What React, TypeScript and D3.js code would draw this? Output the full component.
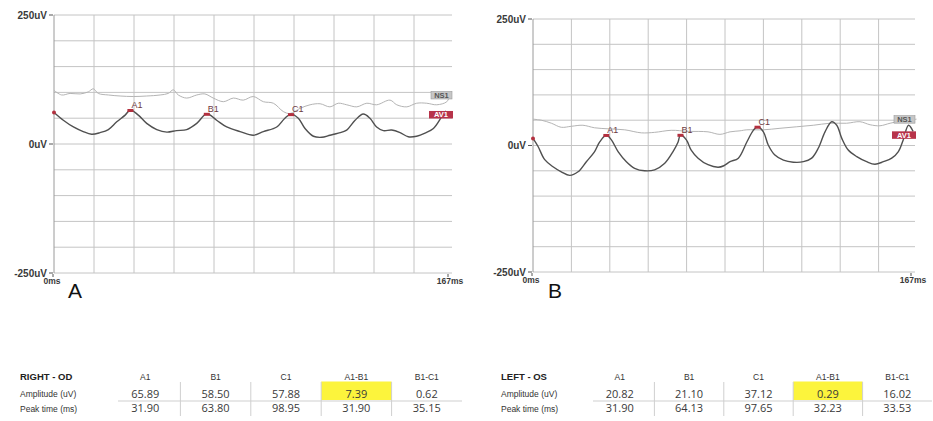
import React from "react";
import * as d3 from "d3";

type Pt = [number, number];

const X_MAX = 167;
const Y_MIN = -250;
const Y_MAX = 250;
const yTickValues = [250, 0, -250];
const yTickText = ["250uV", "0uV", "-250uV"];
const xTickText = ["0ms", "167ms"];
const peakNames = ["A1", "B1", "C1"];
const columnNames = ["A1", "B1", "C1", "A1-B1", "B1-C1"];
const rowNames = ["Amplitude (uV)", "Peak time (ms)"];

// table values
const odAmplitude = [65.89, 58.5, 57.88, 7.39, 0.62];
const odPeakTime = [31.9, 63.8, 98.95, 31.9, 35.15];
const osAmplitude = [20.82, 21.1, 37.12, 0.29, 16.02];
const osPeakTime = [31.9, 64.13, 97.65, 32.23, 33.53];

// traces, [ms, uV]
const odAv1: Pt[] = [
  [0, 61], [3.9, 46], [8.1, 33], [12.2, 24], [15.7, 19], [19.2, 22], [22.7, 28],
  [26.2, 43], [29.7, 56], [31.9, 65.89], [35.2, 56], [38.7, 40], [42.9, 28],
  [47.1, 23], [51.2, 26], [55.4, 28], [59.6, 40], [63.8, 58.5], [67.9, 46],
  [72.1, 33], [77.7, 24], [83.2, 17], [87.4, 24], [93.0, 33], [96.4, 50],
  [98.95, 57.88], [102.0, 50], [104.8, 30], [108.3, 15], [111.8, 13], [115.2, 17],
  [118.7, 21], [122.2, 27], [125.7, 46], [129.1, 58], [131.9, 50], [134.7, 33],
  [137.5, 26], [141.0, 27], [144.5, 22], [147.9, 14], [151.4, 15], [154.9, 21],
  [158.4, 30], [161.9, 53], [163.7, 64],
];
const odNs1: Pt[] = [
  [0, 104], [3.2, 95], [6.7, 98], [10.9, 97], [14.3, 101], [16.4, 107], [18.5, 98],
  [22.7, 95], [27.6, 93], [33.1, 92], [38.7, 93], [44.3, 95], [47.7, 98], [49.8, 105],
  [51.9, 95], [55.4, 89], [59.6, 95], [63.0, 97], [66.5, 89], [70.7, 82], [74.9, 89],
  [79.0, 85], [83.2, 92], [87.4, 82], [91.6, 79], [95.7, 63], [98.5, 59], [102.7, 69],
  [106.9, 76], [111.1, 78], [115.2, 72], [118.7, 79], [122.2, 76], [126.4, 72],
  [130.6, 79], [134.7, 76], [140.3, 85], [143.1, 76], [147.3, 72], [151.4, 79],
  [155.6, 79], [159.8, 76], [164.0, 82], [165.3, 95],
];
const osAv1: Pt[] = [
  [0, 14], [2.2, -2], [5.1, -28], [8.7, -42], [12.3, -52], [16.0, -59], [19.6, -52],
  [23.2, -32], [26.8, -12], [29.0, 7], [31.9, 20.82], [34.1, 11], [37.0, -12],
  [40.6, -32], [44.2, -45], [48.6, -50], [52.9, -48], [57.3, -35], [60.9, -12],
  [63.1, 7], [64.13, 21.1], [66.7, 11], [68.8, -9], [71.8, -25], [76.1, -38],
  [80.5, -43], [83.0, -40], [85.7, -32], [89.3, -25], [93.0, 7], [95.8, 30],
  [97.65, 37.12], [100.2, 27], [102.3, 1], [105.2, -19], [108.9, -29], [113.2, -33],
  [117.6, -32], [121.2, -25], [124.1, -5], [127.0, 27], [129.9, 47], [132.1, 40],
  [134.3, 14], [137.1, -9], [140.8, -22], [145.1, -32], [148.7, -37], [152.4, -32],
  [156.0, -25], [158.9, -12], [161.0, 11], [163.3, 40], [165.3, 28],
];
const osNs1: Pt[] = [
  [0, 52], [3.6, 50], [8, 44], [12.3, 36], [16.7, 38], [21.7, 40], [26.8, 35],
  [32.6, 33], [39.9, 31], [47.1, 25], [52.9, 26], [60.1, 30], [67.4, 28], [76.1, 27],
  [81.3, 22], [85.7, 27], [90, 29], [93, 31], [100.2, 31], [107.4, 34], [114.7, 37],
  [121.9, 40], [129.2, 44], [136.4, 44], [142.2, 47], [146.6, 41], [150.9, 39],
  [155.3, 44], [159.6, 48], [163, 50], [166.8, 52],
];

const AXIS_FONT = "'Liberation Sans', Arial, sans-serif";
const TABLE_FONT = "'Open Sans', 'Liberation Sans', sans-serif";

function Trace({ x0, x1, yTop, yBottom, av1, ns1, amp, time, letter, letterX }: any) {
  const x = d3.scaleLinear().domain([0, X_MAX]).range([x0, x1]);
  const y = d3.scaleLinear().domain([Y_MIN, Y_MAX]).range([yBottom, yTop]);
  const line = d3
    .line<Pt>()
    .x(d => x(d[0]))
    .y(d => y(d[1]))
    .curve(d3.curveCatmullRom.alpha(0.5));
  const vGrid = d3.range(1, 10).map(i => (X_MAX * i) / 10);
  const hGrid = d3.range(Y_MIN, Y_MAX + 1, 50);
  const av1Last = av1[av1.length - 1];
  const ns1Last = ns1[ns1.length - 1];
  const xEnd = x(X_MAX);

  return (
    <g>
      {hGrid.map(v => (
        <line key={"h" + v} x1={x0} x2={xEnd - 2} y1={y(v)} y2={y(v)} stroke="#c4c4c4" strokeWidth={1} />
      ))}
      {vGrid.map(v => (
        <line key={"v" + v} x1={x(v)} x2={x(v)} y1={yTop} y2={yBottom} stroke="#c4c4c4" strokeWidth={1} />
      ))}
      <line x1={x0} x2={x0} y1={yTop} y2={yBottom} stroke="#9a9a9a" strokeWidth={1} />

      {yTickValues.map((v, i) => (
        <g key={"yt" + v}>
          <text x={x0 - 7} y={y(v) + 3.5} textAnchor="end" fontFamily={AXIS_FONT} fontSize={10} fontWeight={700} fill="#3a3a3a">
            {yTickText[i]}
          </text>
          <line x1={x0 - 5} x2={x0 - 1} y1={y(v)} y2={y(v)} stroke="#555" strokeWidth={1} />
        </g>
      ))}
      {[0, X_MAX].map((v, i) => (
        <g key={"xt" + v}>
          <line x1={x(v) - (i ? 6 : 1)} x2={x(v) - (i ? 6 : 1)} y1={yBottom + 1} y2={yBottom + 4} stroke="#555" strokeWidth={1} />
          <text x={x(v) - (i ? 4 : 2)} y={yBottom + 11} textAnchor="middle" fontFamily={AXIS_FONT} fontSize={8.5} fontWeight={700} fill="#3a3a3a">
            {xTickText[i]}
          </text>
        </g>
      ))}

      <path d={line(ns1) || ""} fill="none" stroke="#b4b4b4" strokeWidth={1} />
      <path d={line(av1) || ""} fill="none" stroke="#505050" strokeWidth={1.4} />
      <circle cx={x(av1[0][0])} cy={y(av1[0][1])} r={2} fill="#b3303f" />

      {peakNames.map((name, i) => (
        <g key={name}>
          <rect x={x(time[i]) - 3} y={y(amp[i]) - 1} width={6} height={3} fill="#b3303f" />
          <text x={x(time[i]) + 1} y={y(amp[i]) - 2} fontFamily={AXIS_FONT} fontSize={9} fill="#6d3b42">
            {name}
          </text>
        </g>
      ))}

      <rect x={xEnd - 23} y={y(ns1Last[1]) - 3.5} width={21} height={7.5} fill="#c6c6c6" stroke="#9a9a9a" strokeWidth={0.6} />
      <text x={xEnd - 12.5} y={y(ns1Last[1]) + 3} textAnchor="middle" fontFamily={AXIS_FONT} fontSize={7.5} fontWeight={700} fill="#555">
        NS1
      </text>
      <rect x={xEnd - 25} y={y(av1Last[1])} width={24} height={7.5} fill="#b7334a" />
      <text x={xEnd - 13} y={y(av1Last[1]) + 6.5} textAnchor="middle" fontFamily={AXIS_FONT} fontSize={7.5} fontWeight={700} fill="#fff">
        AV1
      </text>

      <text x={letterX} y={298} fontFamily={AXIS_FONT} fontSize={21} fill="#111">
        {letter}
      </text>
    </g>
  );
}

function Table({ labelX, range, title, amp, time }: any) {
  const band = d3.scaleBand<number>().domain(d3.range(5)).range(range);
  const bw = band.bandwidth();
  const cx = (i: number) => (band(i) as number) + bw / 2;
  return (
    <g>
      <text x={labelX} y={380} fontFamily={AXIS_FONT} fontSize={9.5} fontWeight={700} fill="#222">
        {title}
      </text>
      {columnNames.map((c, i) => (
        <text key={c} x={cx(i)} y={380} textAnchor="middle" fontFamily={AXIS_FONT} fontSize={8.5} fill="#333">
          {c}
        </text>
      ))}
      {rowNames.map((r, i) => (
        <text key={r} x={labelX} y={397 + i * 14.5} fontFamily={AXIS_FONT} fontSize={8.5} fill="#333">
          {r}
        </text>
      ))}
      <rect x={band(3)} y={381.5} width={bw} height={18.5} fill="#fcf43c" />
      {d3.range(1, 5).map(i => (
        <line key={"s" + i} x1={band(i)} x2={band(i)} y1={382} y2={416} stroke="#cfcfcf" strokeWidth={1} />
      ))}
      <line x1={range[0] + 8} x2={range[1]} y1={401} y2={401} stroke="#cfcfcf" strokeWidth={1} />
      {[amp, time].map((vals: number[], r) =>
        vals.map((v, i) => (
          <text key={r + "-" + i} x={cx(i)} y={397.5 + r * 14.5} textAnchor="middle" fontFamily={TABLE_FONT} fontSize={11} fill="#3a3a3a">
            {v.toFixed(2)}
          </text>
        ))
      )}
    </g>
  );
}

export default function App() {
  return (
    <svg
      width={933}
      height={421}
      viewBox="0 0 933 421"
      style={{ position: "absolute", left: 0, top: 0, background: "#fff" }}
    >
      <rect width={933} height={421} fill="#fff" />
      <Trace x0={54} x1={454} yTop={15} yBottom={273} av1={odAv1} ns1={odNs1} amp={odAmplitude} time={odPeakTime} letter="A" letterX={68} />
      <Trace x0={533} x1={917} yTop={19} yBottom={272} av1={osAv1} ns1={osNs1} amp={osAmplitude} time={osPeakTime} letter="B" letterX={548} />
      <Table labelX={20} range={[110, 462]} title="RIGHT - OD" amp={odAmplitude} time={odPeakTime} />
      <Table labelX={501} range={[585, 932]} title="LEFT - OS" amp={osAmplitude} time={osPeakTime} />
    </svg>
  );
}
